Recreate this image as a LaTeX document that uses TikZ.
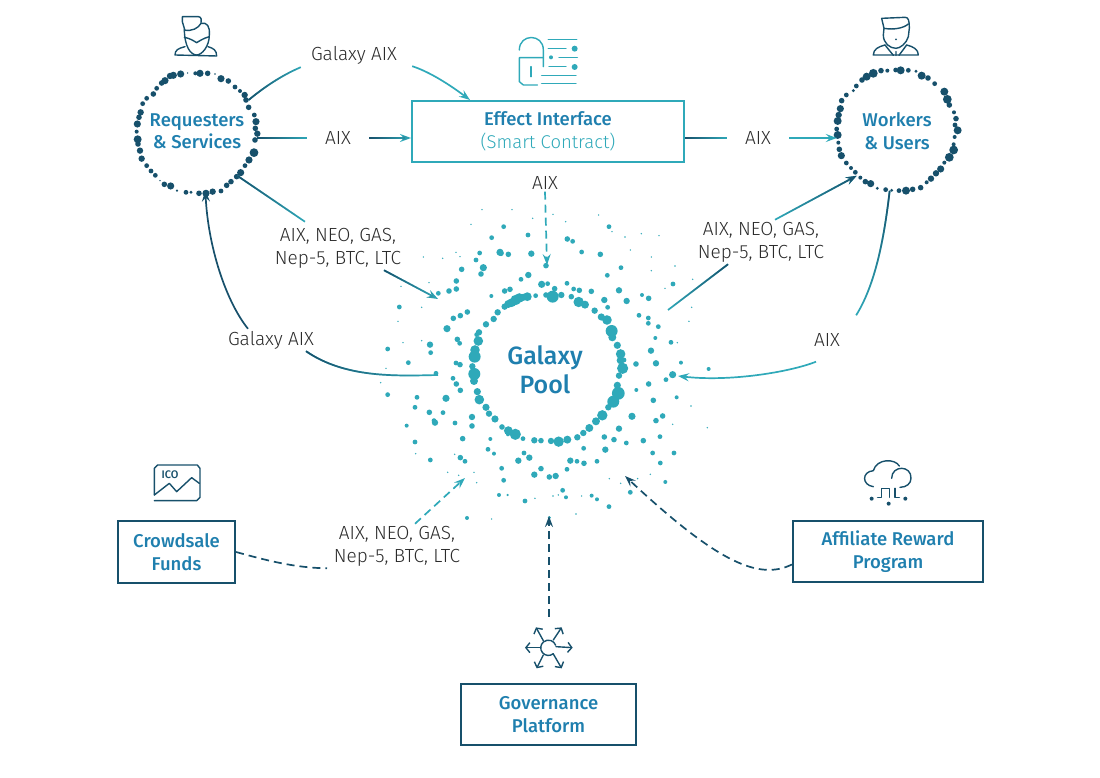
\documentclass[tikz,border=0pt]{standalone}
\usepackage{fontspec}
\usetikzlibrary{arrows.meta,calc,fadings}
\setmainfont{Fira Sans Light}
\newfontfamily\headfont{Fira Sans Medium}
\definecolor{dk}{HTML}{17506B}
\definecolor{tl}{HTML}{2FA9B9}
\definecolor{bl}{HTML}{1F7FAE}
\definecolor{lb}{HTML}{2B2B2B}
\tikzset{
 lab/.style={text=lb,font=\fontsize{19}{23}\selectfont,align=center,inner ysep=2pt,inner xsep=10pt},
 head/.style={text=bl,font=\headfont\fontsize{18.5}{22.5}\selectfont,align=center},
 ringnode/.style={circle,minimum size=120pt,inner sep=0pt,head},
 boxdk/.style={draw=dk,line width=2.2pt,head,inner sep=0pt},
 conn/.style={line width=1.7pt},
 cdk/.style={conn,draw=dk},
 ctl/.style={conn,draw=tl},
 tip/.style={-{Stealth[open,length=11pt,width=8pt,inset=4pt]}},
 dsh/.style={dash pattern=on 8pt off 5pt},
 icon/.style={line width=1.4pt,line cap=round,line join=round},
 barb/.style={-{Straight Barb[length=4pt,width=10pt]}},
}
% a connector that runs from dark to teal: teal below, fading dark above
\newcommand{\gradconn}[3][]{\draw[ctl,#1] #3; \draw[cdk,#1,path fading=#2] #3;}
\begin{document}
\begin{tikzpicture}[x=1pt,y=-1pt]
\useasboundingbox (0,0) rectangle (1100,778);
% rings
\begin{scope}[shift={(120,0)},x=.3333pt,y=-.3333pt]
\foreach \a/\b/\r in {150/228/8,160/226/9,182/222/9,135/242/9,125/249/7,110/265/6,100/282/7,80/295/6,68/311/6,62/337/8,57/352/7,52/372/9,50/395/5,53/418/10,54/432/7,60/452/8,65/476/8,80/497/6,93/513/6,106/526/6,120/542/2,133/553/7,152/558/9,171/572/3,198/577/6,213/577/4,237/580/7,258/580/9,278/575/8,303/573/6,320/556/7,333/545/7,350/530/7,362/518/9,375/497/6,387/480/9,402/458/11,405/420/7,412/401/8,406/385/7,408/365/9,403/345/6,386/322/7,378/300/7,374/285/8,360/273/5,345/261/6,325/243/7,303/236/9,285/222/2,263/220/7,240/220/9,226/220/5,203/219/2}
 \fill[dk] (\a,\b) circle ({\r*1.2});
\end{scope}
\begin{scope}[shift={(800,0)},x=.3333pt,y=-.3333pt]
\foreach \a/\b/\r in {186/240/7,200/230/10,220/220/11,243/212/7,262/212/5,287/210/6,302/211/10,325/211/6,348/214/4,365/227/10,384/234/7,404/251/6,433/275/10,442/298/11,448/315/7,462/337/5,468/356/7,465/375/6,473/391/10,464/411/5,461/433/5,461/450/11,448/472/11,433/488/5,422/507/9,408/520/8,393/536/8,380/547/5,362/563/7,338/568/7,318/572/10,297/572/6,275/571/4,257/569/6,232/565/4,212/551/9,196/545/7,181/533/5,166/517/6,153/504/5,139/489/6,124/467/9,118/448/7,115/428/5,113/405/10,110/387/6,113/363/10,116/345/8,121/326/9,125/302/7,139/285/6,160/272/4,169/258/6}
 \fill[dk] (\a,\b) circle ({\r*1.2});
\end{scope}
% galaxy dots
\begin{scope}[shift={(370,200)},x=.3333pt,y=-.3333pt]
\foreach \a/\b/\r in {404/320/8,415/312/10,425/308/11,437/300/13,448/294/12,460/292/9,472/290/11,497/287/6,528/285/7,548/290/15,574/285/8,604/290/7,626/306/13,645/314/10,674/332/8,694/351/9,711/360/12,725/393/15,727/412/10,742/436/9,752/462/12,752/481/10,762/480/6,758/505/14,747/527/8,742/556/9,745/580/16,730/605/15,715/622/8,697/646/13,678/664/10,658/684/10,640/699/8,622/712/8,592/719/10,566/725/13,543/723/8,513/722/7,493/721/8,459/716/6,436/703/14,415/692/11,414/703/5,396/681/7,375/657/9,357/641/8,348/622/9,328/599/12,322/575/9,312/543/10,313/522/15,307/499/8,314/470/15,315/450/12,325/423/12,327/397/8,320/404/6,348/373/8,371/357/8,383/337/8,
528/197/7,475/225/8,453/238/6,515/253/9,533/251/6,591/250/6,554/266/7,611/267/6,628/271/7,664/274/7,420/268/7,404/273/7,364/288/5,703/300/8,713/322/6,747/271/8,770/303/8,816/285/5,836/295/7,807/346/6,835/354/6,835/370/6,865/380/6,856/414/5,903/427/6,843/452/8,858/490/8,798/492/7,933/488/5,908/524/9,888/539/6,836/552/7,799/570/5,920/592/5,850/601/7,878/648/7,858/662/7,786/649/9,747/686/8,703/711/7,732/719/7,769/729/6,820/722/7,870/710/6,848/759/6,912/759/6,871/789/6,886/846/5,641/745/6,706/749/8,681/784/6,642/790/7,621/784/6,601/782/8,591/808/6,781/877/6,717/920/6,681/898/5,665/887/5,588/892/5,578/871/6,557/828/8,538/831/7,513/806/7,493/824/8,478/773/8,462/759/6,445/782/8,395/805/6,401/841/6,387/885/5,465/903/6,372/761/5,354/748/6,361/717/5,278/716/7,306/678/7,306/651/8,255/669/6,271/773/7,285/784/6,181/780/6,135/726/6,195/668/8,192/662/6,178/637/7,219/638/6,135/622/6,141/592/6,110/677/5,228/595/9,53/584/6,271/571/7,259/552/7,249/535/6,270/494/7,258/489/6,198/520/6,115/488/6,182/458/6,180/434/8,53/447/6,269/430/6,262/418/7,231/386/9,250/355/7,271/347/7,292/336/7,88/321/6,205/280/6,237/273/7,259/267/7,259/243/7,275/208/7,333/222/7,340/203/9,318/180/6,329/159/6,390/157/9,393/160/7,415/163/7,484/161/8,365/113/6,401/80/6,474/105/6,592/117/7,608/124/6,635/156/6,691/163/7,717/80/6,753/203/6,712/226/6,909/252/6,
336/29/2,426/29/2,303/73/2,549/43/2,488/55/2,587/65/2,686/45/2,726/95/2,765/111/2,814/101/2,867/107/2,781/150/2,844/171/2,844/212/2,915/198/2,968/238/2,885/265/2,965/322/2,957/364/2,922/428/2,160/171/2,218/175/2,258/157/2,270/170/2,177/248/2,93/259/2,155/322/2,84/364/2,99/428/2,155/422/2,48/505/2,32/548/2,963/618/2,908/673/2,1012/683/2,137/761/2,254/763/2,233/817/2,266/826/2,312/817/2,320/848/2,413/885/3,495/895/2,549/888/2,565/885/2,635/888/2,718/836/2,752/850/2,803/836/2,841/823/2,618/942/2,291/954/5,538/953/4,365/957/2,1016/507/5}
 \fill[tl] (\a,\b) circle ({\r*1.2});
\end{scope}
% nodes
\node[ringnode] (req) at (197,131) {Requesters\\\& Services};
\node[ringnode] (wrk) at (897,131) {Workers\\\& Users};
\node[draw=tl,line width=2pt,minimum width=272pt,minimum height=61pt,head,inner sep=0pt] (eff) at (548,131.5) {Effect Interface\\{\fontspec{Fira Sans Light}\color{tl}(Smart Contract)}};
\node[boxdk,minimum width=117pt,minimum height=62pt] (crowd) at (176.5,552) {Crowdsale\\Funds};
\node[boxdk,minimum width=190pt,minimum height=61pt] (aff) at (888,551.5) {Affiliate Reward\\Program};
\node[boxdk,minimum width=175pt,minimum height=61pt] (gov) at (548.5,714.5) {Governance\\Platform};
\node[text=bl,font=\headfont\fontsize{25}{29}\selectfont,align=center,inner sep=0pt] (pool) at (545,370) {Galaxy\\Pool};
% labels
\node[lab] (la) at (354,55) {Galaxy AIX};
\node[lab,inner xsep=18pt] (lb) at (338,138) {AIX};
\node[lab] (lc) at (338,248) {AIX, NEO, GAS,\\Nep-5, BTC, LTC};
\node[lab] (ld) at (271,340) {Galaxy AIX};
\node[lab] (le) at (545,183) {AIX};
\node[lab,inner xsep=18pt] (lf) at (758,138) {AIX};
\node[lab] (lg) at (761,242) {AIX, NEO, GAS,\\Nep-5, BTC, LTC};
\node[lab] (lh) at (827,340) {AIX};
\node[lab] (li) at (397,546) {AIX, NEO, GAS,\\Nep-5, BTC, LTC};
% free ends
\coordinate (effIn) at (470,100);
\coordinate (pA) at (438,299);
\coordinate (pB) at (547,265);
\coordinate (pC) at (668,310);
\coordinate (pD) at (678,376);
\coordinate (pE) at (438,375);
\coordinate (pF) at (465,478);
\coordinate (pG) at (625,476);
\coordinate (pH) at (549,516);
% connectors
\gradconn{east}{(req.31) .. controls (268,84) and (285,74) .. ([yshift=-1pt]la.south west)}
\draw[ctl,tip] ([xshift=5pt]la.south east) .. controls (430,72) and (450,85) .. (effIn);
\gradconn{east}{(req.east |- lb.west) -- (lb.west)}
\gradconn[tip]{east}{(lb.east) -- (eff.west |- lb.east)}
\gradconn{east}{(req.-48) -- ([xshift=-33pt,yshift=4pt]lc.north)}
\gradconn[tip]{east}{([xshift=46pt]lc.south) -- (pA)}
\gradconn{east}{(eff.east |- lf.west) -- (lf.west)}
\draw[ctl,tip] (lf.east) -- (wrk.west |- lf.east);
\draw[ctl,dsh,tip] (le.south) -- (pB);
\gradconn{west}{(pC) -- ([xshift=-33pt]lg.south)}
\gradconn[tip]{west}{([xshift=14pt]lg.north) -- (wrk.-132)}
\gradconn{south}{(wrk.-97) .. controls (884,240) and (875,285) .. ([xshift=6pt,yshift=16pt]lh.north east)}
\draw[ctl,tip] ([xshift=-11pt,yshift=-13pt]lh.south) .. controls (790,372) and (730,382) .. (pD);
\gradconn{east}{([xshift=35pt]ld.south) .. controls (345,378) and (395,376) .. (pE)}
\draw[cdk,tip] ([xshift=-23pt]ld.north) .. controls (225,300) and (208,245) .. (req.-82);
\draw[cdk,dsh] (crowd.east) .. controls (265,560) and (295,568) .. ([xshift=-70pt]li.south);
\draw[ctl,dsh,tip] ([xshift=18pt]li.north) -- (pF);
\draw[cdk,dsh,tip] ([yshift=-13pt]aff.west) .. controls (760,580) and (720,565) .. (pG);
\draw[cdk,dsh,tip] ([yshift=66pt,xshift=.5pt]gov.north) -- (pH);
% icon requester
\begin{scope}[shift={(120,0)},x=.3333pt,y=-.3333pt,draw=dk,icon]
\draw (187,65) -- (187,50) -- (235,50) .. controls (245,50) and (245,62) .. (243,70) .. controls (262,66) and (270,80) .. (268,105) .. controls (268,140) and (245,165) .. (230,165) .. controls (212,165) and (193,140) .. (193,85) -- (187,65);
\draw (193,90) .. controls (215,95) and (235,85) .. (243,70);
\draw (193,112) .. controls (210,115) and (220,122) .. (230,128) .. controls (240,122) and (250,115) .. (268,110);
\draw (195,140) .. controls (175,145) and (165,150) .. (165,165) -- (290,168) .. controls (290,150) and (280,145) .. (264,140);
\end{scope}
% icon worker
\begin{scope}[shift={(800,0)},x=.3333pt,y=-.3333pt,draw=dk,icon]
\draw (245,55) -- (315,52) .. controls (325,52) and (328,60) .. (328,85) -- (325,110) .. controls (320,130) and (300,145) .. (288,145) .. controls (270,145) and (250,130) .. (250,105) -- (252,85) -- (245,55);
\draw (252,85) .. controls (280,90) and (310,85) .. (325,72);
\draw (255,135) .. controls (235,140) and (220,148) .. (220,165) -- (355,165) .. controls (355,148) and (340,140) .. (320,135);
\draw (255,135) -- (280,166) (320,135) -- (297,166) (288,155) -- (288,166);
\fill[dk] (288,118) circle (3);
\end{scope}
% icon lock
\begin{scope}[shift={(480,20)},x=.3333pt,y=-.3333pt,draw=tl,icon]
\draw (118,90) .. controls (118,40) and (190,40) .. (190,90) -- (190,140);
\draw (172,195) -- (130,195) -- (118,185) -- (118,113) -- (190,113);
\draw (153,140) -- (153,170);
\draw (205,58) -- (290,58) (205,85) -- (258,85) (237,113) -- (292,113) (207,140) -- (258,140) (185,167) -- (288,167) (185,191) -- (288,191);
\fill[tl] (284,86) circle (9) (284,141) circle (9) (213,112) circle (6);
\end{scope}
% icon ICO
\begin{scope}[shift={(110,450)},x=.3333pt,y=-.3333pt,draw=dk,icon]
\draw (133,135) -- (133,55) -- (143,45) -- (262,45) -- (270,55) -- (270,142) -- (260,152) -- (133,152);
\draw (133,135) -- (178,100) -- (200,125) -- (245,83) -- (268,100);
\node[text=dk,font=\headfont\fontsize{11}{12}\selectfont,inner sep=0pt] (ico) at (180,75) {ICO};
\end{scope}
% icon cloud
\begin{scope}[shift={(780,450)},x=.3333pt,y=-.3333pt,draw=dk,icon]
\draw (280,110) .. controls (245,105) and (245,65) .. (280,62) .. controls (290,25) and (345,25) .. (358,48);
\draw (335,85) .. controls (335,45) and (395,45) .. (393,85) .. controls (393,100) and (380,112) .. (360,112);
\draw (293,142) -- (305,142) -- (305,115) -- (328,115) -- (328,142);
\draw (345,115) -- (345,142) -- (358,142);
\fill[dk] (275,146) circle (6) (326,161) circle (6) (376,146) circle (6);
\end{scope}
% icon hub
\begin{scope}[shift={(450,620)},x=.3333pt,y=-.3333pt,draw=dk,icon]
\draw (310,101) arc (50:340:23);
\draw[barb] (280,62) -- (258,22);
\draw[barb] (310,60) -- (335,22);
\draw[barb] (272,83) -- (225,83);
\draw[barb] (318,80) -- (368,83);
\draw[barb] (280,105) -- (260,145);
\draw[barb] (310,102) -- (335,145);
\end{scope}
\end{tikzpicture}
\end{document}
